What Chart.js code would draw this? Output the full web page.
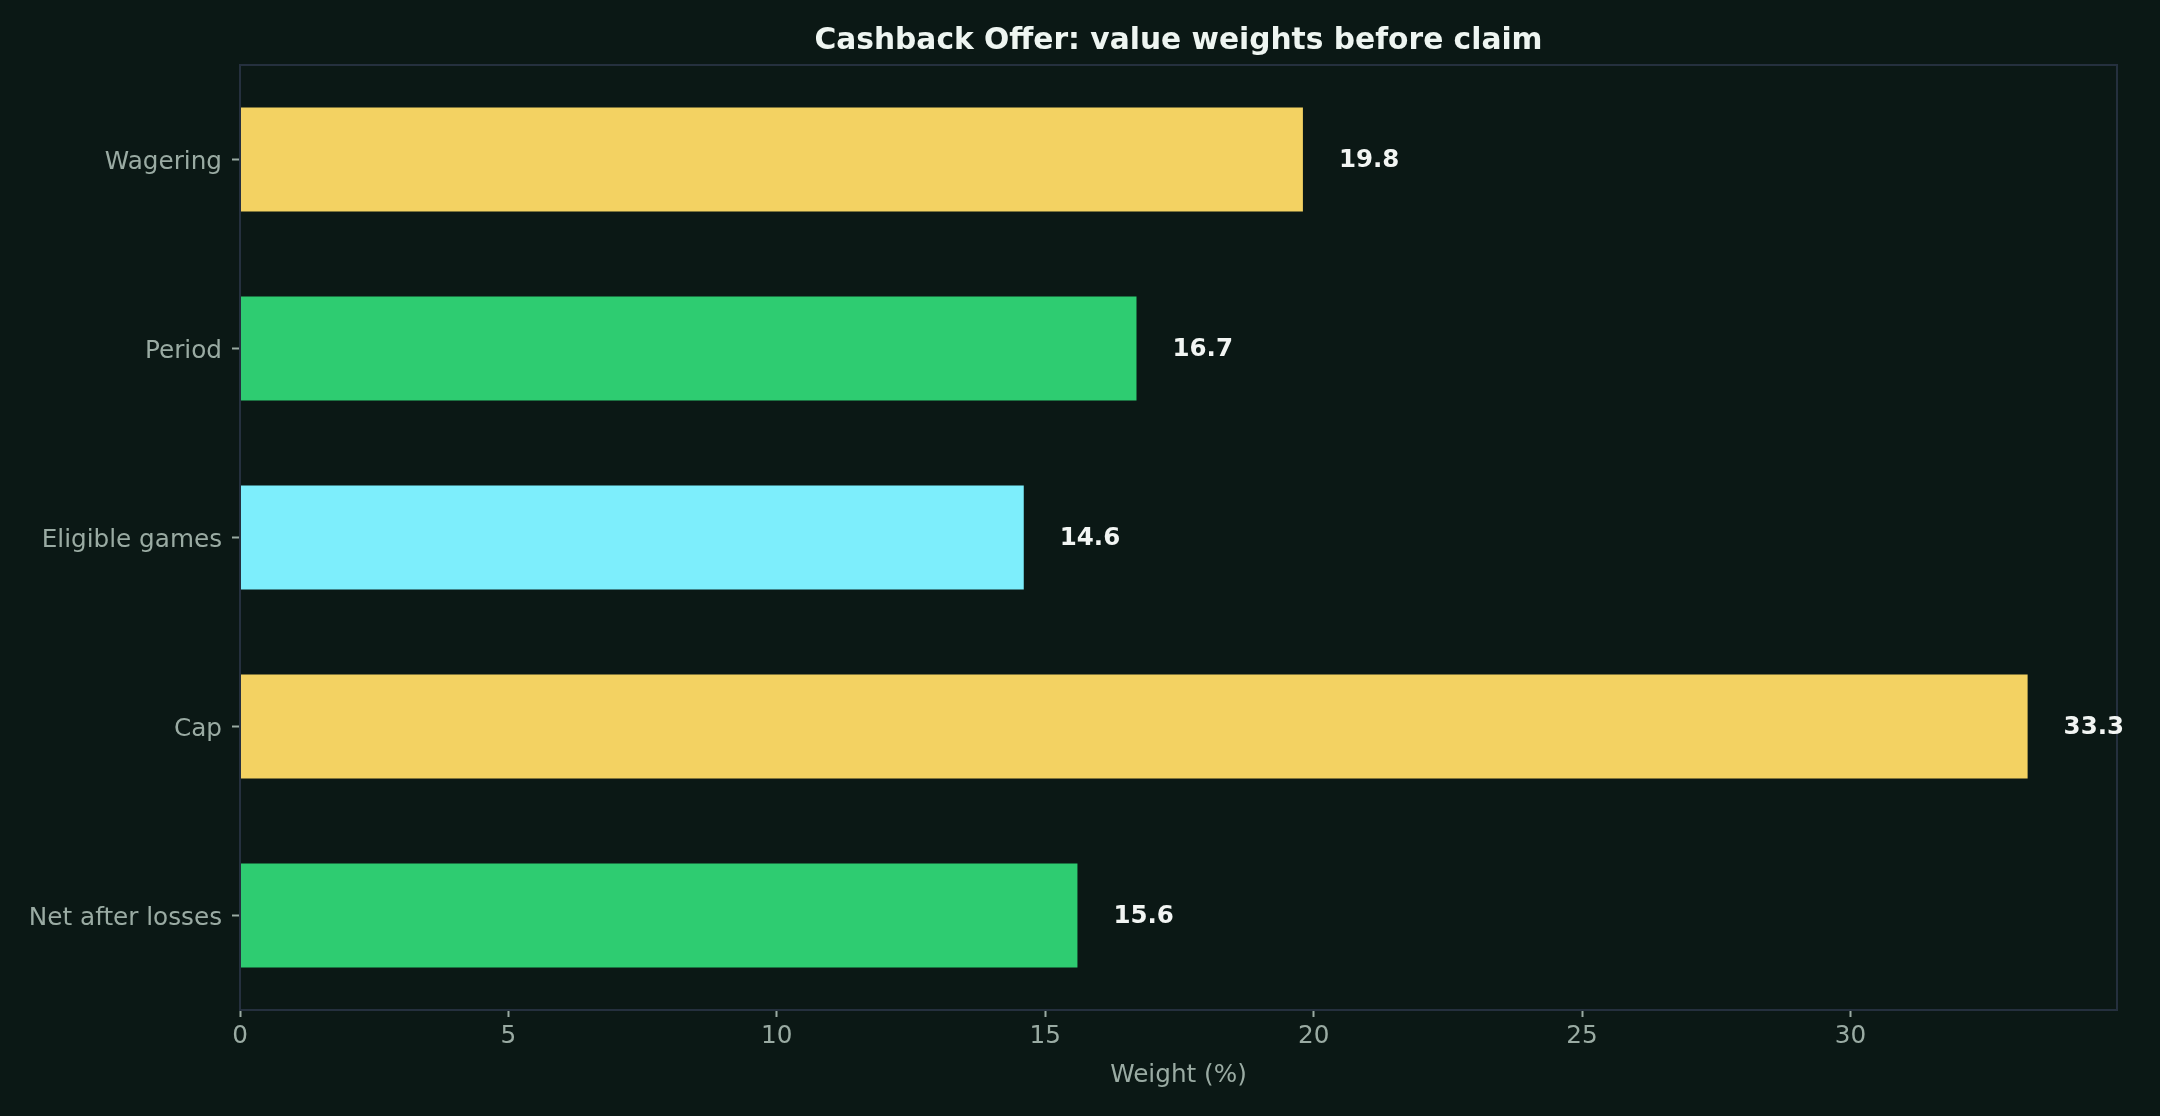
<!DOCTYPE html>
<html>
<head>
<meta charset="utf-8">
<title>Cashback Offer</title>
<script src="https://cdn.jsdelivr.net/npm/chart.js@4.4.1/dist/chart.umd.min.js"></script>
<style>
  html, body { margin: 0; padding: 0; background: #0b1815; }
  #wrap { width: 2160px; height: 1116px; }
</style>
</head>
<body>
<div id="wrap"><canvas id="weightChart" width="2160" height="1116"></canvas></div>
<script>
const categories = ["Wagering", "Period", "Eligible games", "Cap", "Net after losses"];
const weights = [19.8, 16.7, 14.6, 33.3, 15.6];
const barColors = ["#f3d262", "#2ecc71", "#7deefc", "#f3d262", "#2ecc71"];
const xTicks = [0, 5, 10, 15, 20, 25, 30];

const TICK_GREY = "#9aaba3";
const FRAME = "#25303e";
const FONT = "'DejaVu Sans', sans-serif";

// outline round the plot area, like matplotlib spines
const frameBox = {
    id: "frameBox",
    afterDatasetsDraw(chart) {
        const { ctx, chartArea: a } = chart;
        ctx.save();
        ctx.strokeStyle = FRAME;
        ctx.lineWidth = 2;
        ctx.strokeRect(a.left, a.top, a.right - a.left, a.bottom - a.top);
        ctx.restore();
    }
};

// value labels to the right of every bar
const valueLabels = {
    id: "valueLabels",
    afterDatasetsDraw(chart) {
        const { ctx } = chart;
        const meta = chart.getDatasetMeta(0);
        const xScale = chart.scales.x;
        ctx.save();
        ctx.font = "bold 24.5px " + FONT;
        ctx.fillStyle = "#f2f5f3";
        ctx.textAlign = "left";
        ctx.textBaseline = "middle";
        meta.data.forEach((bar, i) => {
            const v = weights[i];
            ctx.fillText(v.toFixed(1), xScale.getPixelForValue(v) + 36, bar.y + 1);
        });
        ctx.restore();
    }
};

const plotTitle = {
    id: "plotTitle",
    afterDraw(chart) {
        const { ctx, chartArea: a } = chart;
        ctx.save();
        ctx.font = "bold 29.7px " + FONT;
        ctx.fillStyle = "#eef5f1";
        ctx.textAlign = "center";
        ctx.textBaseline = "middle";
        ctx.fillText("Cashback Offer: value weights before claim", (a.left + a.right) / 2, 41);
        ctx.restore();
    }
};

const bgFill = {
    id: "bgFill",
    beforeDraw(chart) {
        const { ctx, width, height } = chart;
        ctx.save();
        ctx.fillStyle = "#0b1815";
        ctx.fillRect(0, 0, width, height);
        ctx.restore();
    }
};

new Chart(document.getElementById("weightChart"), {
    type: "bar",
    data: {
        labels: categories,
        datasets: [{
            label: "Weight (%)",
            data: weights,
            backgroundColor: barColors,
            borderWidth: 0,
            barPercentage: 0.55,
            categoryPercentage: 1.0
        }]
    },
    options: {
        indexAxis: "y",
        responsive: false,
        animation: false,
        devicePixelRatio: 1,
        layout: { padding: { top: 65, right: 43, bottom: 26, left: 0 } },
        plugins: {
            legend: { display: false },
            title: { display: false },
            tooltip: { enabled: false }
        },
        scales: {
            x: {
                type: "linear",
                min: 0,
                max: 34.965,
                afterBuildTicks: (scale) => {
                    scale.ticks = xTicks.map(v => ({ value: v }));
                },
                afterFit: (scale) => { scale.height = 80; },
                border: { display: false },
                grid: {
                    drawOnChartArea: false,
                    drawTicks: true,
                    tickLength: 7,
                    tickWidth: 2,
                    tickColor: TICK_GREY
                },
                ticks: {
                    color: TICK_GREY,
                    font: { family: FONT, size: 24.7 },
                    padding: 5,
                    maxRotation: 0
                },
                title: {
                    display: true,
                    text: "Weight (%)",
                    color: TICK_GREY,
                    font: { family: FONT, size: 24.7 },
                    padding: 0
                }
            },
            y: {
                afterFit: (scale) => { scale.width = 240; },
                border: { display: false },
                grid: {
                    offset: false,
                    drawOnChartArea: false,
                    drawTicks: true,
                    tickLength: 8,
                    tickWidth: 2,
                    tickColor: TICK_GREY
                },
                ticks: {
                    color: TICK_GREY,
                    font: { family: FONT, size: 24.7 },
                    padding: 10,
                    labelOffset: 3
                }
            }
        }
    },
    plugins: [bgFill, frameBox, valueLabels, plotTitle]
});
</script>
</body>
</html>
